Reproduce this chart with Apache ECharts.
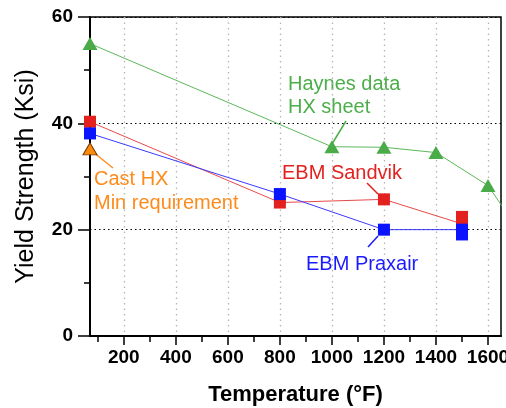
<!DOCTYPE html>
<html><head><meta charset="utf-8">
<script src="https://cdn.jsdelivr.net/npm/echarts@6/dist/echarts.min.js"></script>
<style>html,body{margin:0;padding:0;background:#fff}#c{width:506px;height:408px}</style>
</head><body><div id="c"></div>
<script>
// ---- data ----
const xMajorTicks = [200, 400, 600, 800, 1000, 1200, 1400, 1600];
const xMinorTicks = [100, 300, 500, 700, 900, 1100, 1300, 1500];
const haynesTemp = [70, 1000, 1200, 1400, 1600, 1800];
const haynesYS   = [55.0, 35.6, 35.5, 34.5, 28.3, 14.0];
const sandvikTemp = [70, 800, 1200, 1500, 1500];
const sandvikYS   = [40.3, 25.1, 25.7, 21.1, 22.4];
const praxairTemp = [70, 800, 1200, 1500, 1500];
const praxairYS   = [38.1, 26.7, 20.0, 20.0, 19.1];
const castTemp = [70];
const castYS   = [35.2];

const FF = '"Liberation Sans", Arial, Helvetica, sans-serif';
const chart = echarts.init(document.getElementById('c'), null, {renderer: 'canvas'});

function pts(xs, ys) { return xs.map((x, i) => [x, ys[i]]); }

function lineSeries(name, xs, ys, color, lineColor, symbol, size, z, border) {
  return {
    name, type: 'line', data: pts(xs, ys), symbol, symbolSize: size,
    showSymbol: true, clip: true, z,
    lineStyle: {color: lineColor, width: 1},
    itemStyle: Object.assign({color}, border || {}),
    emphasis: {disabled: true}, animation: false
  };
}

const xBase = {
  type: 'value', min: 70, max: 1650, gridIndex: 0, position: 'bottom'
};

const option = {
  animation: false,
  backgroundColor: '#fff',
  grid: {left: 90, right: 5, top: 17, bottom: 72, containLabel: false, outerBoundsMode: 'none',
         show: true, borderColor: '#000', borderWidth: 1.5, backgroundColor: 'transparent'},
  xAxis: [
    Object.assign({}, xBase, {
      axisLine: {show: true, onZero: false, lineStyle: {color: '#000', width: 2}},
      axisTick: {show: true, length: 9, customValues: xMajorTicks, lineStyle: {color: '#000', width: 1.5}},
      axisLabel: {show: true, customValues: xMajorTicks, formatter: v => String(v), hideOverlap: false,
                  color: '#000', fontSize: 19, fontWeight: 'bold', fontFamily: FF, margin: 12},
      splitLine: {show: true, lineStyle: {color: '#b5b5b5', width: 1.3, type: [1.5, 4]}},
      name: 'Temperature (\u00B0F)', nameLocation: 'middle', nameGap: 48,
      nameTextStyle: {color: '#000', fontSize: 22, fontWeight: 'bold', fontFamily: FF}
    }),
    Object.assign({}, xBase, {
      axisLine: {show: false},
      axisTick: {show: true, length: 6, customValues: xMinorTicks, lineStyle: {color: '#000', width: 1.5}},
      axisLabel: {show: false},
      splitLine: {show: false}
    })
  ],
  yAxis: {
    type: 'value', min: 0, max: 60, interval: 20,
    axisLine: {show: true, onZero: false, lineStyle: {color: '#000', width: 2}},
    axisTick: {show: true, length: 12, lineStyle: {color: '#000', width: 1.5}},
    minorTick: {show: true, splitNumber: 2, length: 6, lineStyle: {color: '#000', width: 1.5}},
    axisLabel: {color: '#000', fontSize: 19, fontWeight: 'bold', fontFamily: FF, margin: 17},
    splitLine: {show: true, lineStyle: {color: '#000', width: 1, type: [1.5, 3]}},
    name: 'Yield Strength (Ksi)', nameLocation: 'middle', nameGap: 51,
    nameTextStyle: {color: '#000', fontSize: 25, fontFamily: FF}
  },
  series: [
    lineSeries('Haynes data HX sheet', haynesTemp, haynesYS, '#4aab48', '#5cb85a', 'triangle', [15, 13], 3),
    lineSeries('EBM Sandvik', sandvikTemp, sandvikYS, '#e3211f', '#e84a4a', 'rect', 12, 4),
    lineSeries('EBM Praxair', praxairTemp, praxairYS, '#0a14ff', '#3a3aff', 'rect', 12, 5),
    lineSeries('Cast HX Min requirement', castTemp, castYS, '#ff8a0a', '#ff8a0a', 'triangle', [14, 12], 6, {borderColor: '#6b3500', borderWidth: 1})
  ],
  graphic: [
    {type: 'text', x: 288, y: 84, style: {text: 'Haynes data', fill: '#4cae4a', font: '20px ' + FF, verticalAlign: 'middle'}},
    {type: 'text', x: 288, y: 107, style: {text: 'HX sheet', fill: '#4cae4a', font: '20px ' + FF, verticalAlign: 'middle'}},
    {type: 'line', shape: {x1: 346, y1: 121, x2: 332, y2: 144}, style: {stroke: '#4cae4a', lineWidth: 1.5}},
    {type: 'text', x: 282, y: 173, style: {text: 'EBM Sandvik', fill: '#e3211f', font: '20px ' + FF, verticalAlign: 'middle'}},
    {type: 'line', shape: {x1: 367, y1: 183, x2: 378, y2: 194}, style: {stroke: '#e3211f', lineWidth: 1.5}},
    {type: 'text', x: 306, y: 264, style: {text: 'EBM Praxair', fill: '#1a1aff', font: '20px ' + FF, verticalAlign: 'middle'}},
    {type: 'line', shape: {x1: 368, y1: 247, x2: 378, y2: 236}, style: {stroke: '#1a1aff', lineWidth: 1.5}},
    {type: 'text', x: 94, y: 179, style: {text: 'Cast HX', fill: '#ff8a1a', font: '20px ' + FF, verticalAlign: 'middle'}},
    {type: 'text', x: 94, y: 203, style: {text: 'Min requirement', fill: '#ff8a1a', font: '20px ' + FF, verticalAlign: 'middle'}},
    {type: 'line', shape: {x1: 93, y1: 152, x2: 113, y2: 168}, style: {stroke: '#ff8a1a', lineWidth: 1.5}}
  ]
};
chart.setOption(option);
</script>
</body></html>
